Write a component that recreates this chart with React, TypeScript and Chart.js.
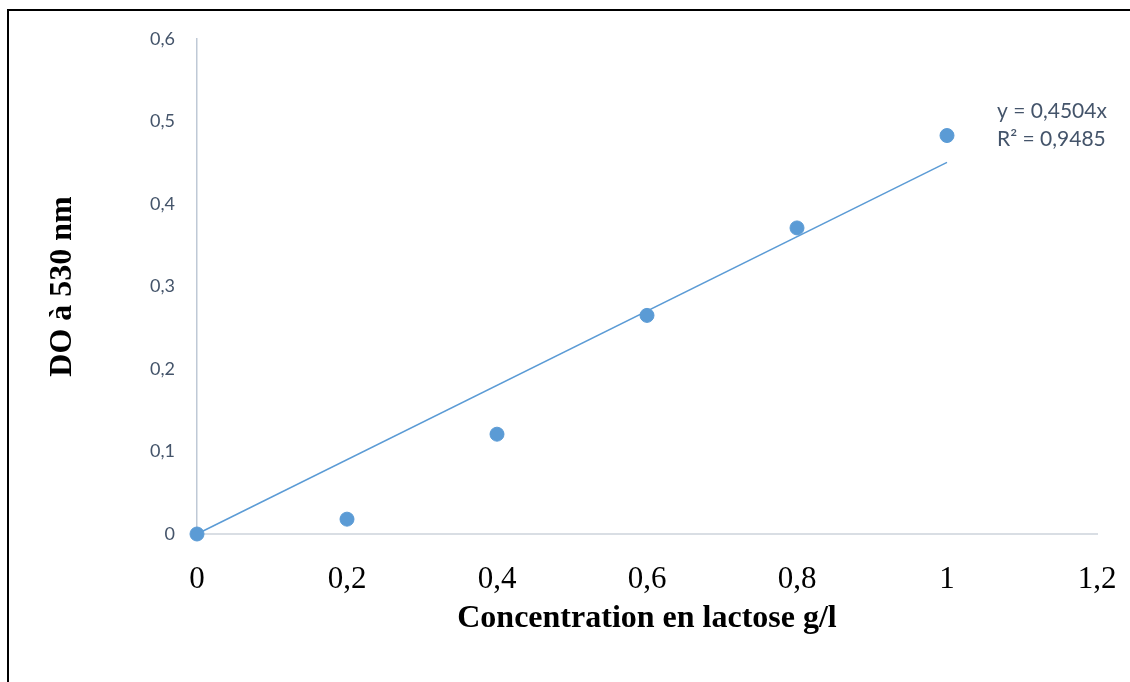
import React, { useEffect, useRef } from "react";
import { Chart, registerables } from "chart.js";

Chart.register(...registerables);

const concentrations = [0, 0.2, 0.4, 0.6, 0.8, 1];
const absorbance = [0, 0.018, 0.121, 0.265, 0.371, 0.483];
const slope = 0.4504;
const trendX = [0, 1];
const equationLines = ["y = 0,4504x", "R² = 0,9485"];
const xTitle = "Concentration en lactose g/l";
const yTitle = "DO à 530 nm";

const fmt = (v: number) => String(Number(v.toFixed(1))).replace(".", ",");

export default function App() {
  const ref = useRef<HTMLCanvasElement>(null);
  useEffect(() => {
    if (!ref.current) return;
    const eqPlugin = {
      id: "eq",
      afterDraw(chart: any) {
        const { ctx } = chart;
        const xs = chart.scales.x;
        const ys = chart.scales.y;
        ctx.save();
        ctx.font = "21px Lato";
        ctx.fillStyle = "#44546A";
        ctx.textBaseline = "middle";
        ctx.textAlign = "left";
        const x0 = xs.getPixelForValue(1) + 50;
        const y0 = ys.getPixelForValue(0.5) - 10;
        equationLines.forEach((t, i) => ctx.fillText(t, x0, y0 + i * 28));
        ctx.restore();
      },
    };
    const chart = new Chart(ref.current, {
      type: "scatter",
      data: {
        datasets: [
          {
            type: "line",
            data: trendX.map((x) => ({ x, y: slope * x })),
            borderColor: "#5B9BD5",
            borderWidth: 1.5,
            pointRadius: 0,
            fill: false,
            clip: false,
            order: 2,
          },
          {
            data: concentrations.map((x, i) => ({ x, y: absorbance[i] })),
            backgroundColor: "#5B9BD5",
            borderColor: "#5B9BD5",
            pointRadius: 7,
            clip: false,
            order: 1,
          },
        ],
      },
      options: {
        responsive: false,
        animation: false,
        plugins: { legend: { display: false }, tooltip: { enabled: false } },
        layout: { padding: { left: 0, top: 39, right: 33, bottom: 0 } },
        scales: {
          x: {
            type: "linear",
            min: 0,
            max: 1.2,
            ticks: {
              stepSize: 0.2,
              callback: (v: any) => fmt(Number(v)),
              color: "#000",
              font: { family: "Liberation Serif", size: 31 },
              padding: 27,
            },
            grid: { display: false, drawTicks: false },
            border: { display: true, color: "#D9DEE4", width: 2 },
            title: {
              display: true,
              text: xTitle,
              color: "#000",
              font: { family: "Liberation Serif", size: 32, weight: "bold" },
              padding: { top: 4, bottom: 44 },
            },
            afterFit: (s: any) => {
              s.height = 148;
              s.paddingLeft = 0;
              s.paddingRight = 0;
            },
          },
          y: {
            min: 0,
            max: 0.6,
            ticks: {
              stepSize: 0.1,
              callback: (v: any) => fmt(Number(v)),
              color: "#44546A",
              font: { family: "Lato", size: 18 },
              padding: 22,
            },
            grid: { display: false, drawTicks: false },
            border: { display: true, color: "#BFC9D6", width: 1.5 },
            title: {
              display: true,
              text: yTitle,
              color: "#000",
              font: { family: "Liberation Serif", size: 32, weight: "bold" },
              padding: { top: 44, bottom: 0 },
            },
            afterFit: (s: any) => {
              s.width = 197;
            },
          },
        },
      },
      plugins: [eqPlugin],
    } as any);
    return () => chart.destroy();
  }, []);
  return (
    <div>
      <canvas
        ref={ref}
        width={1130}
        height={682}
        style={{ position: "fixed", left: 0, top: 0, width: 1130, height: 682 }}
      />
      <div
        style={{
          position: "fixed",
          left: 7,
          top: 9,
          width: 2000,
          height: 2000,
          borderLeft: "2px solid #000",
          borderTop: "2px solid #000",
          pointerEvents: "none",
        }}
      />
    </div>
  );
}
